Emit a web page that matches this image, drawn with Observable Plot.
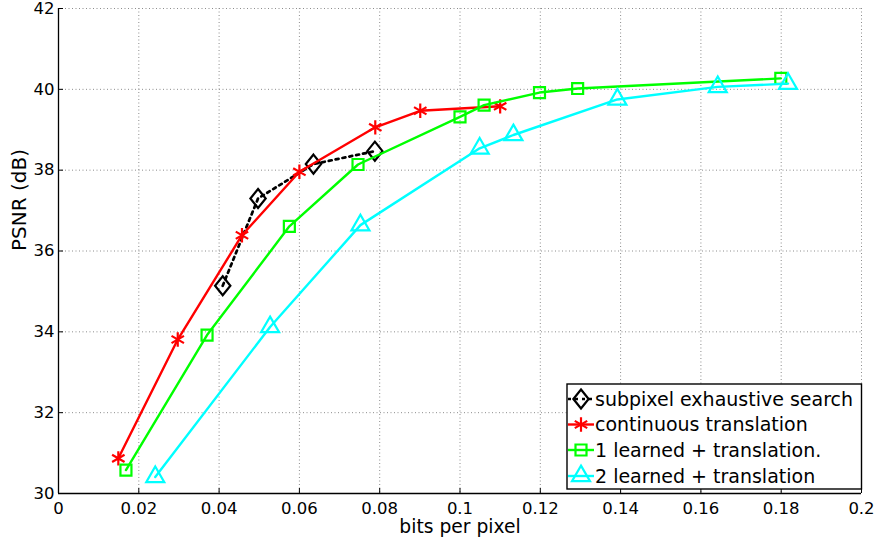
<!DOCTYPE html>
<html><head><meta charset="utf-8">
<script src="https://cdn.jsdelivr.net/npm/d3@7"></script>
<script src="https://cdn.jsdelivr.net/npm/@observablehq/plot@0.6"></script>
<style>
body{margin:0;background:#fff;}
#chart{position:relative;width:878px;height:540px;}
</style></head><body><div id="chart"></div>
<script>
// ---- data ----
const seriesNames = ["subpixel exhaustive search", "continuous translation", "1 learned + translation.", "2 learned + translation"];
const subX = [0.0409, 0.0497, 0.0635, 0.0788];
const subY = [35.14, 37.30, 38.15, 38.47];
const contX = [0.0149, 0.0297, 0.0457, 0.0600, 0.0789, 0.0901, 0.1100];
const contY = [30.87, 33.81, 36.39, 37.96, 39.06, 39.47, 39.58];
const l1X = [0.0168, 0.0370, 0.0575, 0.0746, 0.1000, 0.1060, 0.1198, 0.1293, 0.1799];
const l1Y = [30.58, 33.92, 36.61, 38.14, 39.32, 39.61, 39.92, 40.02, 40.27];
const l2X = [0.0241, 0.0527, 0.0752, 0.1049, 0.1133, 0.1392, 0.1642, 0.1817];
const l2Y = [30.41, 34.12, 36.64, 38.54, 38.87, 39.75, 40.06, 40.14];
const xTicks = [0, 0.02, 0.04, 0.06, 0.08, 0.1, 0.12, 0.14, 0.16, 0.18, 0.2];
const yTicks = [30, 32, 34, 36, 38, 40, 42];
const xLabel = "bits per pixel";
const yLabel = "PSNR (dB)";

// ---- styles ----
const FONT = "DejaVu Sans";
const diamondSym = {draw(ctx, size){ const r = Math.sqrt(size/Math.PI); const w = r*0.9, h = r*1.12; ctx.moveTo(0,-h); ctx.lineTo(w,0); ctx.lineTo(0,h); ctx.lineTo(-w,0); ctx.closePath(); }};
const series = [
  {name: seriesNames[0], xs: subX, ys: subY, color: "#000000", symbol: diamondSym, r: 8.5, dash: "3,4", sw: 2.7},
  {name: seriesNames[1], xs: contX, ys: contY, color: "#ff0000", symbol: "asterisk", r: 6.8, dash: null, sw: 2.4},
  {name: seriesNames[2], xs: l1X, ys: l1Y, color: "#00ff00", symbol: "square2", r: 7, dash: null, sw: 2.4},
  {name: seriesNames[3], xs: l2X, ys: l2Y, color: "#00ffff", symbol: "triangle2", r: 8.6, dash: null, sw: 2.4}
];
const rows = s => s.xs.map((x, i) => ({x, y: s.ys[i]}));

const marks = [
  Plot.gridX(xTicks, {stroke: "#8c8c8c", strokeOpacity: 1, strokeWidth: 1, strokeDasharray: "1,2.5"}),
  Plot.gridY(yTicks, {stroke: "#8c8c8c", strokeOpacity: 1, strokeWidth: 1, strokeDasharray: "1,2.5"})
];
for (const s of series) {
  marks.push(Plot.line(rows(s), {x: "x", y: "y", stroke: s.color, strokeWidth: s.sw, strokeDasharray: s.dash}));
  marks.push(Plot.dot(rows(s), {x: "x", y: "y", symbol: s.symbol, r: s.r, stroke: s.color, strokeWidth: 2.2, fill: "none"}));
}
marks.push(
  Plot.ruleX([0], {stroke: "black", strokeWidth: 1.3}),
  Plot.ruleY([30], {stroke: "black", strokeWidth: 1.3}),
  Plot.axisX({ticks: xTicks, anchor: "bottom", tickSize: -5, tickPadding: 13.5, tickFormat: d3.format("~g"), label: null, fontSize: 16.5}),
  Plot.axisY({ticks: yTicks, anchor: "left", tickSize: -5, tickPadding: 9, tickFormat: d3.format("~g"), label: null, fontSize: 16.5}),
  Plot.text([xLabel], {frameAnchor: "bottom", dy: 33.5, text: d => d, fontSize: 18.7, lineAnchor: "middle"}),
  Plot.text([yLabel], {frameAnchor: "left", dx: -39, text: d => d, fontSize: 20, rotate: -90, lineAnchor: "middle"})
);

const chart = Plot.plot({
  width: 878, height: 540,
  marginLeft: 58, marginRight: 17, marginTop: 8, marginBottom: 47,
  x: {domain: [0, 0.2], axis: null},
  y: {domain: [30, 42], axis: null},
  style: {fontFamily: FONT, fontSize: "16px", background: "white", color: "black"},
  marks
});
document.getElementById("chart").appendChild(chart);

// ---- legend (drawn into the same SVG) ----
const svg = d3.select(chart);
const lg = svg.append("g").attr("font-family", FONT).attr("font-size", 19).attr("text-anchor", "start");
lg.append("rect").attr("x", 567).attr("y", 384).attr("width", 294.5).attr("height", 105)
  .attr("fill", "white").attr("stroke", "black").attr("stroke-width", 1.4);
const rowY = [399, 424.5, 450, 476];
series.forEach((s, i) => {
  const g = lg.append("g").attr("transform", `translate(0,${rowY[i]})`);
  g.append("line").attr("x1", 568).attr("x2", 594).attr("y1", 0).attr("y2", 0)
    .attr("stroke", s.color).attr("stroke-width", s.sw).attr("stroke-dasharray", s.dash);
  const sym = typeof s.symbol === "string" ? {asterisk: d3.symbolAsterisk, square2: d3.symbolSquare2, triangle2: d3.symbolTriangle2}[s.symbol] : s.symbol;
  g.append("path").attr("transform", "translate(581,0)")
    .attr("d", d3.symbol(sym, Math.PI * s.r * s.r)())
    .attr("fill", "none").attr("stroke", s.color).attr("stroke-width", 2.2);
  g.append("text").attr("x", 595).attr("y", 0).attr("dy", "0.35em").attr("text-anchor", "start").attr("fill", "black").text(s.name);
});
</script>
</body></html>
